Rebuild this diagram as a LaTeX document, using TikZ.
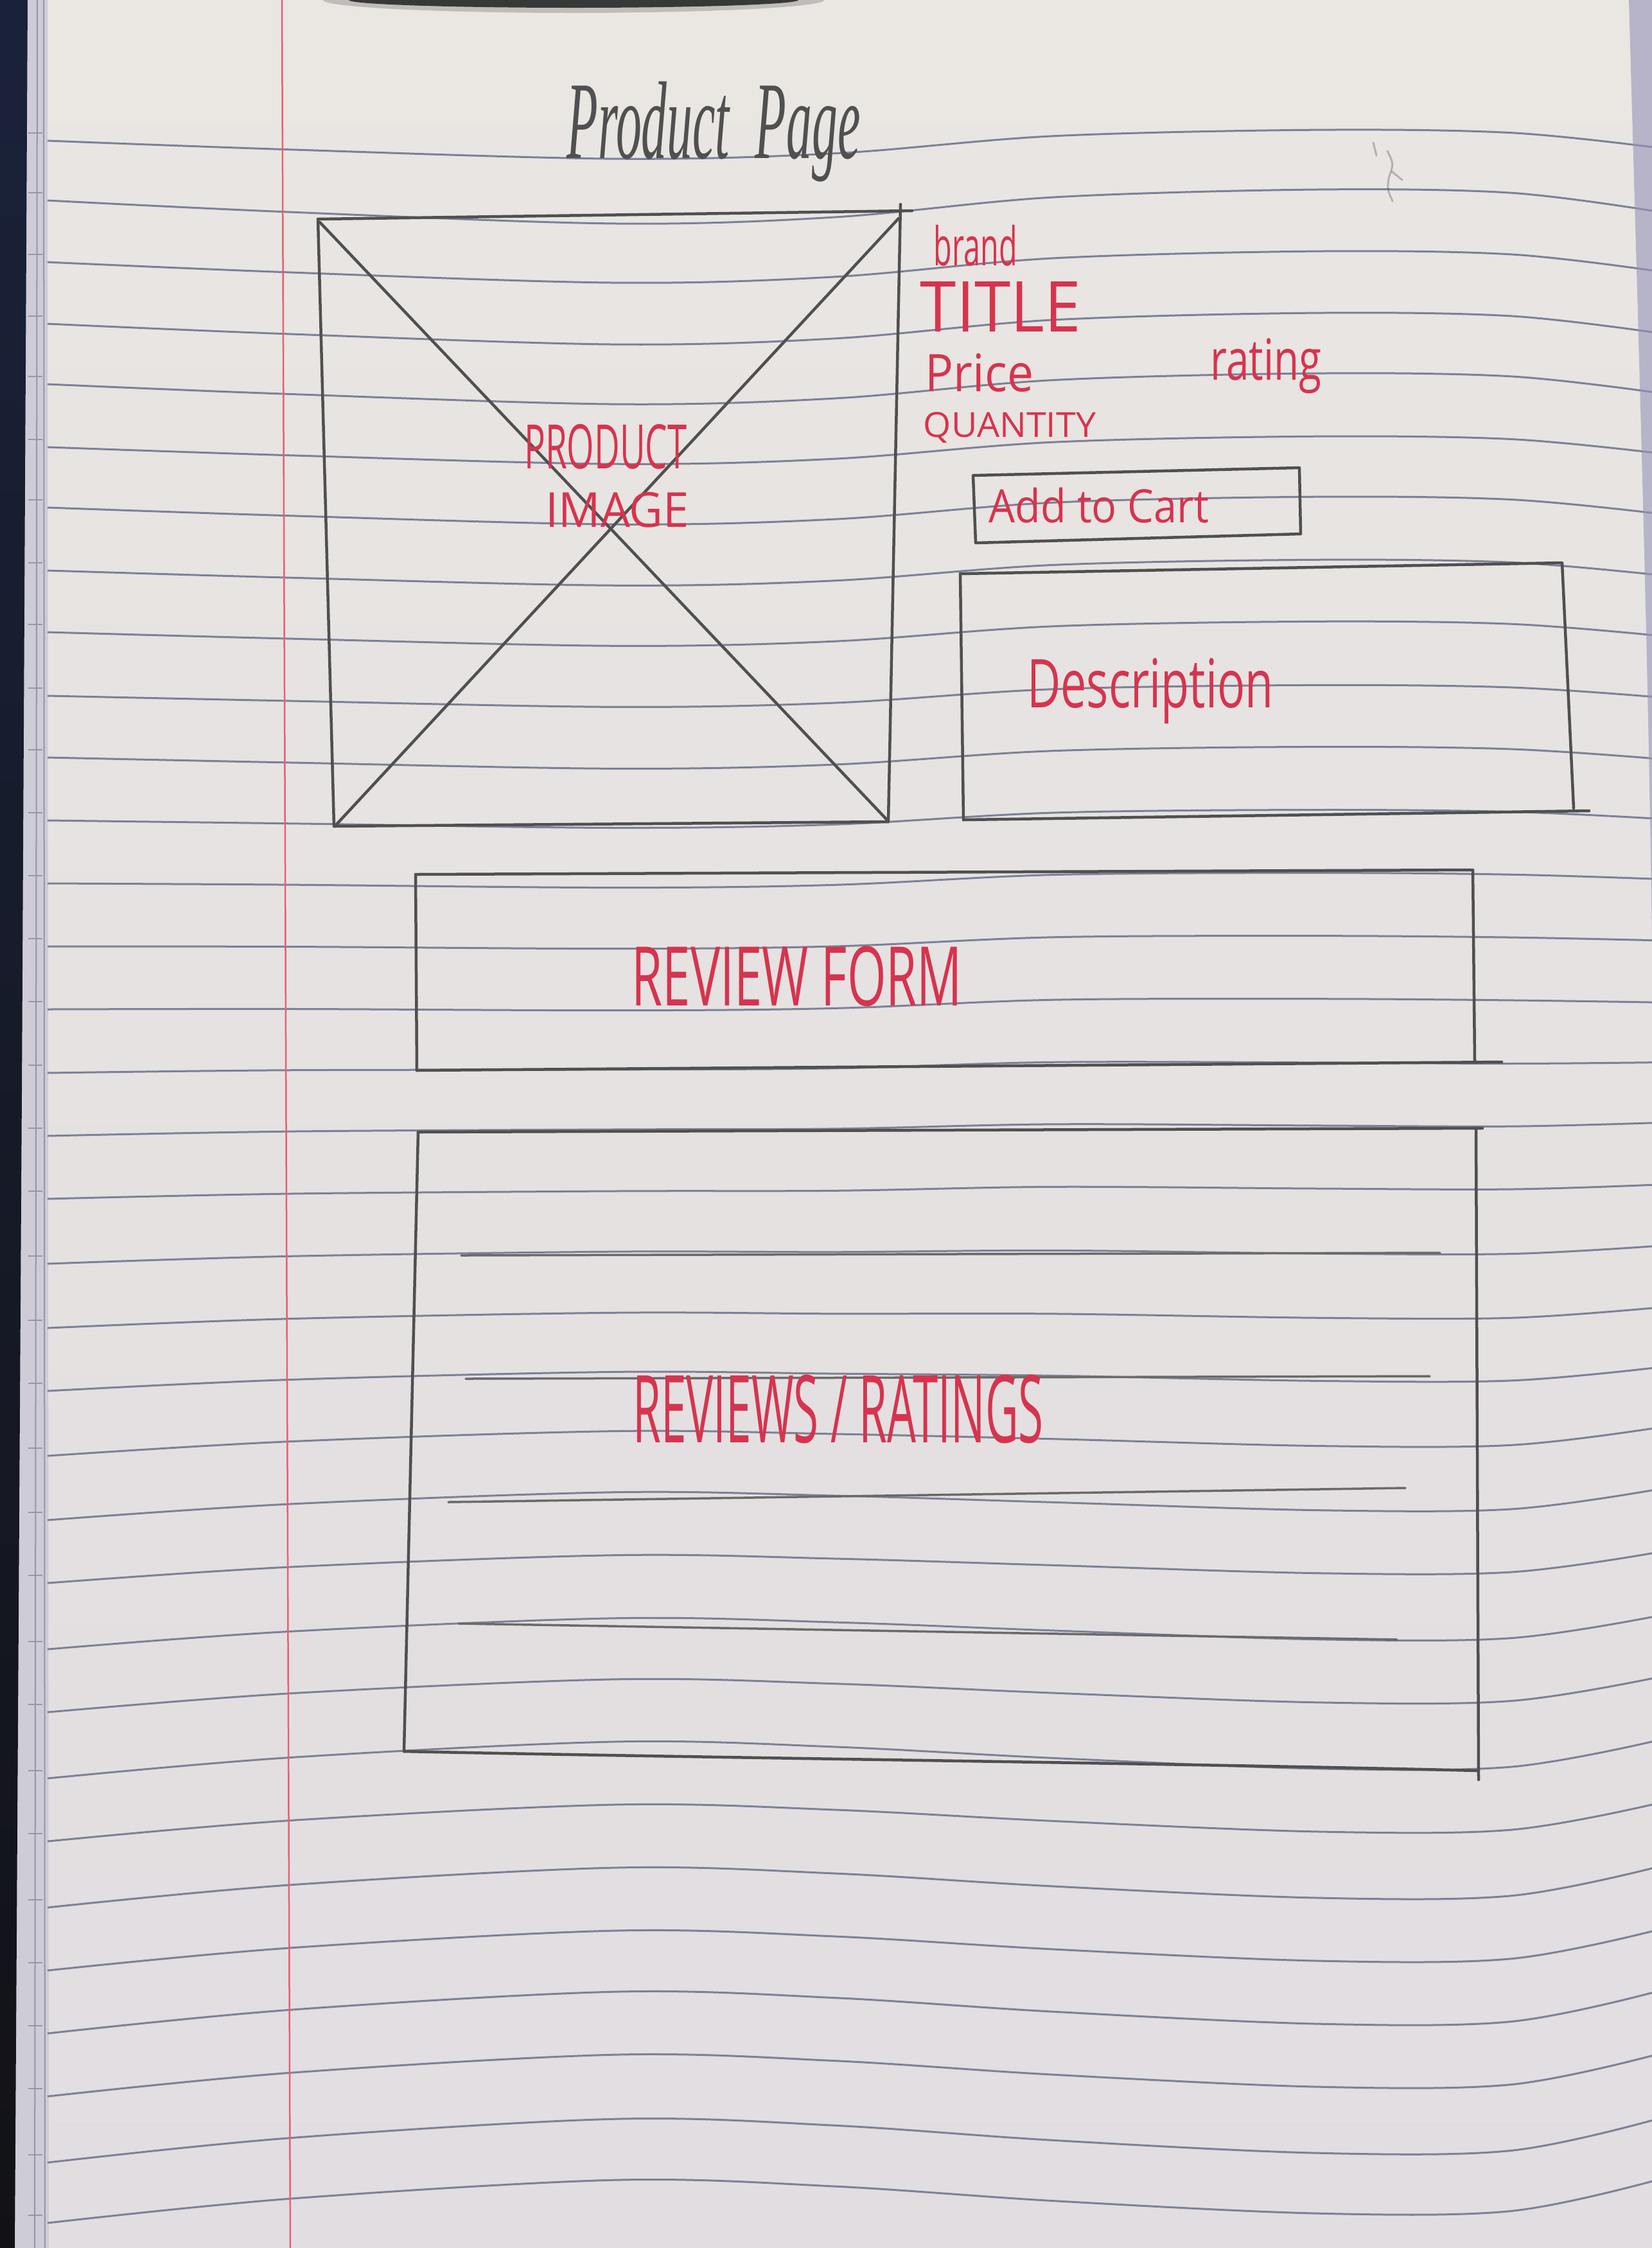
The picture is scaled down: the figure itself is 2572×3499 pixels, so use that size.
\documentclass[tikz,border=0pt]{standalone}
\usepackage{fontspec}
\usepackage{graphicx}
\newfontfamily\penfont{Open Sans}
\newfontfamily\pencilfont{Liberation Serif}

\definecolor{papertop}{RGB}{234,230,226}
\definecolor{paperbottom}{RGB}{225,221,225}
\definecolor{edgestrip}{RGB}{206,204,214}
\definecolor{edgeline}{RGB}{150,150,165}
\definecolor{desktop}{RGB}{26,34,58}
\definecolor{desktopdark}{RGB}{18,18,22}
\definecolor{ruleblue}{RGB}{125,129,150}
\definecolor{marginred}{RGB}{232,96,116}
\definecolor{rightshade}{RGB}{150,148,185}
\definecolor{pencilgrey}{RGB}{80,80,80}
\definecolor{redink}{RGB}{214,52,78}

% scale a word to a given width and total height
\newcommand{\fitto}[3]{\resizebox*{#1}{#2}{#3}}

\tikzset{
  ruled/.style={draw=ruleblue, line width=0.03cm},
  pencil/.style={draw=pencilgrey, line width=0.045cm, line cap=round, line join=round},
  softpencil/.style={draw=pencilgrey!85, line width=0.035cm, line cap=round},
  ink/.style={text=redink, inner sep=0pt, anchor=center, font=\penfont\fontsize{20pt}{20pt}\selectfont},
  pencillabel/.style={text=pencilgrey, inner sep=0pt, anchor=center, font=\pencilfont\itshape\fontsize{20pt}{20pt}\selectfont},
}

\begin{document}
\begin{tikzpicture}[x=0.01cm,y=-0.01cm]
\useasboundingbox (0,0) rectangle (2572,3499);

% paper
\shade[top color=papertop, bottom color=paperbottom] (0,0) rectangle (2572,3499);

% edges of the pages underneath
\fill[edgestrip] (36,0) -- (74,0) -- (76,3499) -- (20,3499) -- cycle;
\draw[edgeline, line width=0.02cm] (58,0) -- (54,3499);
\draw[edgeline, line width=0.02cm] (68,0) -- (70,3499);

% desk surface at the left
\shade[top color=desktop, bottom color=desktopdark]
  (0,0) -- (43,0) -- (34,1700) -- (23,3499) -- (0,3499) -- cycle;

% ruled lines (the sheet is slightly curved, so they wave)
\foreach \yl/\tw in {219/0.08, 312/0, 408/0.04, 504/0.04, 598/0.05, 696/0.10,
  790/0.10, 888/0.13, 984/0.15, 1083/0.19, 1179/0.19, 1277/0.25, 1375/0.30,
  1473/0.33, 1571/0.35, 1670/0.42, 1768/0.47, 1866/0.49, 1967/0.56, 2067/0.61,
  2165/0.67, 2266/0.76, 2366/0.81, 2464/0.81, 2567/0.86, 2665/0.89, 2768/0.95,
  2866/0.95, 2969/1.0, 3067/1.0, 3165/1.03, 3263/1.03, 3366/1.06, 3460/1.05} {
  \draw[ruled] plot[smooth, tension=0.55] coordinates {
    (74,\yl)
    (450,{\yl+18-53*\tw})
    (960,{\yl+36-98*\tw})
    (1300,{\yl+26-79*\tw})
    (1640,{\yl-5-28*\tw})
    (2050,{\yl-17+2*\tw})
    (2350,{\yl-12-6*\tw})
    (2572,{\yl+16-77*\tw})};
  \draw[edgeline, line width=0.02cm] (44,\yl-12) -- (66,\yl-12);
}

% margin line
\draw[marginred, line width=0.025cm] (439,0) -- (452,3499);

% shadows along the top and right edges
\fill[black, opacity=0.18] (893,0) ellipse [x radius=3.9cm, y radius=0.2cm];
\fill[black, opacity=0.7] (893,0) ellipse [x radius=3.5cm, y radius=0.12cm];
\fill[rightshade, opacity=0.6] (2536,0) .. controls (2550,500) and (2566,1000) .. (2572,1470) -- (2572,0) -- cycle;

% faint pencil mark at the top right
\draw[pencilgrey, opacity=0.35, line width=0.03cm, line cap=round]
  (2138,222) -- (2143,242);
\draw[pencilgrey, opacity=0.35, line width=0.03cm, line cap=round]
  (2160,235) .. controls (2170,255) .. (2162,277) .. controls (2160,295) .. (2168,313);
\draw[pencilgrey, opacity=0.35, line width=0.03cm, line cap=round]
  (2167,267) -- (2183,280);

% title
\node[pencillabel] (title) at (1111,205) {\fitto{4.57cm}{1.56cm}{Product\hspace{0.5em}Page}};

% product image placeholder
\coordinate (imgTL) at (495,341);
\coordinate (imgTR) at (1402,329);
\coordinate (imgBR) at (1383,1279);
\coordinate (imgBL) at (520,1286);
\draw[pencil] (imgTL) -- (1420,328);
\draw[pencil] (1402,318) -- (imgBR);
\draw[pencil] (imgBL) -- (imgBR);
\draw[pencil] (imgTL) -- (imgBL);
\draw[pencil] (498,346) -- (1380,1275);
\draw[pencil] (1399,340) -- (524,1283);
\node[ink] (prodtxt) at (943,695) {\fitto{2.53cm}{0.70cm}{PRODUCT}};
\node[ink] (imgtxt) at (961,794) {\fitto{2.23cm}{0.55cm}{IMAGE}};

% product details
\node[ink] (brand) at (1519,382) {\fitto{1.30cm}{0.64cm}{brand}};
\node[ink] (titletxt) at (1558,477) {\fitto{2.50cm}{0.78cm}{TITLE}};
\node[ink] (price) at (1525,580) {\fitto{1.68cm}{0.60cm}{Price}};
\node[ink] (rating) at (1971,570) {\fitto{1.73cm}{0.86cm}{rating}};
\node[ink] (qty) at (1572,666) {\fitto{2.68cm}{0.48cm}{QUANTITY}};

% add to cart button
\coordinate (btnTL) at (1515,740);
\coordinate (btnTR) at (2023,728);
\coordinate (btnBR) at (2025,831);
\coordinate (btnBL) at (1519,845);
\draw[pencil] (btnTL) -- (btnTR) -- (btnBR) -- (btnBL) -- cycle;
\node[ink] (cart) at (1711,787) {\fitto{3.42cm}{0.55cm}{Add to Cart}};

% description panel
\coordinate (descTL) at (1495,893);
\coordinate (descTR) at (2432,876);
\coordinate (descBR) at (2450,1258);
\coordinate (descBL) at (1500,1276);
\draw[pencil] (descTL) -- (descTR) -- (descBR);
\draw[pencil] (descBL) -- (2474,1262);
\draw[pencil] (descTL) -- (descBL);
\node[ink] (desc) at (1791,1076) {\fitto{3.83cm}{1.02cm}{Description}};

% review form
\coordinate (formTL) at (647,1361);
\coordinate (formTR) at (2293,1354);
\coordinate (formBR) at (2296,1652);
\coordinate (formBL) at (649,1666);
\draw[pencil] (formTL) -- (formTR) -- (formBR);
\draw[pencil] (formBL) -- (2338,1653);
\draw[pencil] (formTL) -- (formBL);
\node[ink] (formtxt) at (1241,1520) {\fitto{5.14cm}{0.94cm}{REVIEW FORM}};

% reviews list
\coordinate (revTL) at (651,1762);
\coordinate (revTR) at (2298,1756);
\coordinate (revBR) at (2302,2770);
\coordinate (revBL) at (629,2726);
\draw[pencil] (revTL) -- (2308,1756);
\draw[pencil] (revTR) -- (revBR);
\draw[pencil] (revTL) -- (revBL);
\draw[pencil] (revBL) .. controls (1100,2736) and (1800,2744) .. (2302,2756);
\draw[softpencil] (718,1954) -- (2242,1950);
\draw[softpencil] (725,2146) -- (2226,2142);
\draw[softpencil] (698,2338) -- (2188,2316);
\draw[softpencil] (714,2527) -- (2175,2552);
\node[ink] (revtxt) at (1305,2193) {\fitto{6.39cm}{1.07cm}{REVIEWS / RATINGS}};

\end{tikzpicture}
\end{document}
